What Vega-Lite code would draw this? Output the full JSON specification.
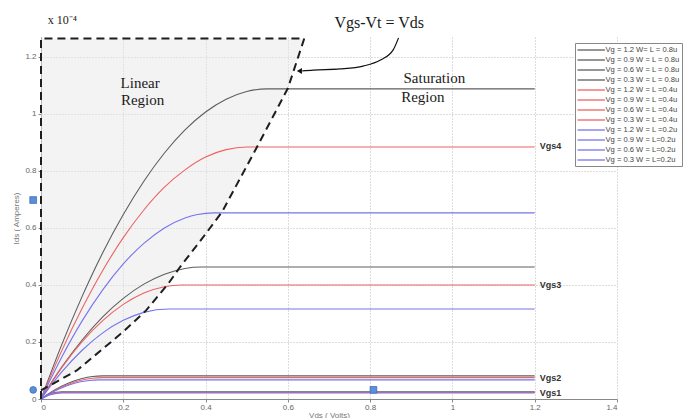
{
  "$schema": "https://vega.github.io/schema/vega-lite/v6.json",
  "width": 576,
  "height": 362,
  "autosize": {"type": "none"},
  "padding": {"left": 41, "top": 37, "right": 68, "bottom": 19},
  "background": "white",
  "config": {
    "view": {"stroke": null},
    "font": "Liberation Sans",
    "axis": {
      "labelFontSize": 8,
      "labelColor": "#666666",
      "titleFontSize": 8,
      "titleFontWeight": "normal",
      "titleColor": "#777777",
      "domainColor": "#888888",
      "tickColor": "#888888",
      "tickSize": 3,
      "gridColor": "#bbbbbb",
      "gridDash": [1, 2],
      "gridWidth": 1
    }
  },
  "datasets": {
    "curves": [
      {"s": "Vg = 1.2 W= L = 0.8u", "v": 0, "i": 0},
      {"s": "Vg = 1.2 W= L = 0.8u", "v": 0.05, "i": 0.189},
      {"s": "Vg = 1.2 W= L = 0.8u", "v": 0.1, "i": 0.36},
      {"s": "Vg = 1.2 W= L = 0.8u", "v": 0.15, "i": 0.513},
      {"s": "Vg = 1.2 W= L = 0.8u", "v": 0.2, "i": 0.647},
      {"s": "Vg = 1.2 W= L = 0.8u", "v": 0.25, "i": 0.764},
      {"s": "Vg = 1.2 W= L = 0.8u", "v": 0.3, "i": 0.863},
      {"s": "Vg = 1.2 W= L = 0.8u", "v": 0.35, "i": 0.944},
      {"s": "Vg = 1.2 W= L = 0.8u", "v": 0.4, "i": 1.007},
      {"s": "Vg = 1.2 W= L = 0.8u", "v": 0.45, "i": 1.052},
      {"s": "Vg = 1.2 W= L = 0.8u", "v": 0.5, "i": 1.079},
      {"s": "Vg = 1.2 W= L = 0.8u", "v": 0.55, "i": 1.088},
      {"s": "Vg = 1.2 W= L = 0.8u", "v": 1.2, "i": 1.088},
      {"s": "Vg = 0.9 W = L = 0.8u", "v": 0, "i": 0},
      {"s": "Vg = 0.9 W = L = 0.8u", "v": 0.05, "i": 0.111},
      {"s": "Vg = 0.9 W = L = 0.8u", "v": 0.1, "i": 0.207},
      {"s": "Vg = 0.9 W = L = 0.8u", "v": 0.15, "i": 0.288},
      {"s": "Vg = 0.9 W = L = 0.8u", "v": 0.2, "i": 0.353},
      {"s": "Vg = 0.9 W = L = 0.8u", "v": 0.25, "i": 0.403},
      {"s": "Vg = 0.9 W = L = 0.8u", "v": 0.3, "i": 0.438},
      {"s": "Vg = 0.9 W = L = 0.8u", "v": 0.35, "i": 0.458},
      {"s": "Vg = 0.9 W = L = 0.8u", "v": 0.39, "i": 0.463},
      {"s": "Vg = 0.9 W = L = 0.8u", "v": 1.2, "i": 0.463},
      {"s": "Vg = 0.6 W = L = 0.8u", "v": 0, "i": 0},
      {"s": "Vg = 0.6 W = L = 0.8u", "v": 0.025, "i": 0.0248},
      {"s": "Vg = 0.6 W = L = 0.8u", "v": 0.05, "i": 0.045},
      {"s": "Vg = 0.6 W = L = 0.8u", "v": 0.075, "i": 0.0608},
      {"s": "Vg = 0.6 W = L = 0.8u", "v": 0.1, "i": 0.072},
      {"s": "Vg = 0.6 W = L = 0.8u", "v": 0.125, "i": 0.0788},
      {"s": "Vg = 0.6 W = L = 0.8u", "v": 0.15, "i": 0.081},
      {"s": "Vg = 0.6 W = L = 0.8u", "v": 1.2, "i": 0.081},
      {"s": "Vg = 0.3 W = L = 0.8u", "v": 0, "i": 0},
      {"s": "Vg = 0.3 W = L = 0.8u", "v": 0.0125, "i": 0.0109},
      {"s": "Vg = 0.3 W = L = 0.8u", "v": 0.025, "i": 0.0188},
      {"s": "Vg = 0.3 W = L = 0.8u", "v": 0.0375, "i": 0.0234},
      {"s": "Vg = 0.3 W = L = 0.8u", "v": 0.05, "i": 0.025},
      {"s": "Vg = 0.3 W = L = 0.8u", "v": 1.2, "i": 0.025},
      {"s": "Vg = 1.2 W = L =0.4u", "v": 0, "i": 0},
      {"s": "Vg = 1.2 W = L =0.4u", "v": 0.05, "i": 0.168},
      {"s": "Vg = 1.2 W = L =0.4u", "v": 0.1, "i": 0.318},
      {"s": "Vg = 1.2 W = L =0.4u", "v": 0.15, "i": 0.451},
      {"s": "Vg = 1.2 W = L =0.4u", "v": 0.2, "i": 0.566},
      {"s": "Vg = 1.2 W = L =0.4u", "v": 0.25, "i": 0.663},
      {"s": "Vg = 1.2 W = L =0.4u", "v": 0.3, "i": 0.743},
      {"s": "Vg = 1.2 W = L =0.4u", "v": 0.35, "i": 0.804},
      {"s": "Vg = 1.2 W = L =0.4u", "v": 0.4, "i": 0.849},
      {"s": "Vg = 1.2 W = L =0.4u", "v": 0.45, "i": 0.875},
      {"s": "Vg = 1.2 W = L =0.4u", "v": 0.5, "i": 0.884},
      {"s": "Vg = 1.2 W = L =0.4u", "v": 1.2, "i": 0.884},
      {"s": "Vg = 0.9 W = L =0.4u", "v": 0, "i": 0},
      {"s": "Vg = 0.9 W = L =0.4u", "v": 0.05, "i": 0.109},
      {"s": "Vg = 0.9 W = L =0.4u", "v": 0.1, "i": 0.201},
      {"s": "Vg = 0.9 W = L =0.4u", "v": 0.15, "i": 0.275},
      {"s": "Vg = 0.9 W = L =0.4u", "v": 0.2, "i": 0.332},
      {"s": "Vg = 0.9 W = L =0.4u", "v": 0.25, "i": 0.372},
      {"s": "Vg = 0.9 W = L =0.4u", "v": 0.3, "i": 0.394},
      {"s": "Vg = 0.9 W = L =0.4u", "v": 0.34, "i": 0.4},
      {"s": "Vg = 0.9 W = L =0.4u", "v": 1.2, "i": 0.4},
      {"s": "Vg = 0.6 W = L =0.4u", "v": 0, "i": 0},
      {"s": "Vg = 0.6 W = L =0.4u", "v": 0.025, "i": 0.0229},
      {"s": "Vg = 0.6 W = L =0.4u", "v": 0.05, "i": 0.0417},
      {"s": "Vg = 0.6 W = L =0.4u", "v": 0.075, "i": 0.0563},
      {"s": "Vg = 0.6 W = L =0.4u", "v": 0.1, "i": 0.0667},
      {"s": "Vg = 0.6 W = L =0.4u", "v": 0.125, "i": 0.0729},
      {"s": "Vg = 0.6 W = L =0.4u", "v": 0.15, "i": 0.075},
      {"s": "Vg = 0.6 W = L =0.4u", "v": 1.2, "i": 0.075},
      {"s": "Vg = 0.3 W = L =0.4u", "v": 0, "i": 0},
      {"s": "Vg = 0.3 W = L =0.4u", "v": 0.0125, "i": 0.0101},
      {"s": "Vg = 0.3 W = L =0.4u", "v": 0.025, "i": 0.0173},
      {"s": "Vg = 0.3 W = L =0.4u", "v": 0.0375, "i": 0.0216},
      {"s": "Vg = 0.3 W = L =0.4u", "v": 0.05, "i": 0.023},
      {"s": "Vg = 0.3 W = L =0.4u", "v": 1.2, "i": 0.023},
      {"s": "Vg = 1.2 W = L =0.2u", "v": 0, "i": 0},
      {"s": "Vg = 1.2 W = L =0.2u", "v": 0.05, "i": 0.146},
      {"s": "Vg = 1.2 W = L =0.2u", "v": 0.1, "i": 0.274},
      {"s": "Vg = 1.2 W = L =0.2u", "v": 0.15, "i": 0.383},
      {"s": "Vg = 1.2 W = L =0.2u", "v": 0.2, "i": 0.474},
      {"s": "Vg = 1.2 W = L =0.2u", "v": 0.25, "i": 0.546},
      {"s": "Vg = 1.2 W = L =0.2u", "v": 0.3, "i": 0.6},
      {"s": "Vg = 1.2 W = L =0.2u", "v": 0.35, "i": 0.635},
      {"s": "Vg = 1.2 W = L =0.2u", "v": 0.38, "i": 0.647},
      {"s": "Vg = 1.2 W = L =0.2u", "v": 0.42, "i": 0.653},
      {"s": "Vg = 1.2 W = L =0.2u", "v": 1.2, "i": 0.653},
      {"s": "Vg = 0.9 W = L=0.2u", "v": 0, "i": 0},
      {"s": "Vg = 0.9 W = L=0.2u", "v": 0.05, "i": 0.094},
      {"s": "Vg = 0.9 W = L=0.2u", "v": 0.1, "i": 0.171},
      {"s": "Vg = 0.9 W = L=0.2u", "v": 0.15, "i": 0.232},
      {"s": "Vg = 0.9 W = L=0.2u", "v": 0.2, "i": 0.276},
      {"s": "Vg = 0.9 W = L=0.2u", "v": 0.25, "i": 0.304},
      {"s": "Vg = 0.9 W = L=0.2u", "v": 0.31, "i": 0.316},
      {"s": "Vg = 0.9 W = L=0.2u", "v": 1.2, "i": 0.316},
      {"s": "Vg = 0.6 W = L=0.2u", "v": 0, "i": 0},
      {"s": "Vg = 0.6 W = L=0.2u", "v": 0.0233, "i": 0.0205},
      {"s": "Vg = 0.6 W = L=0.2u", "v": 0.0467, "i": 0.0372},
      {"s": "Vg = 0.6 W = L=0.2u", "v": 0.07, "i": 0.0503},
      {"s": "Vg = 0.6 W = L=0.2u", "v": 0.0933, "i": 0.0596},
      {"s": "Vg = 0.6 W = L=0.2u", "v": 0.1167, "i": 0.0651},
      {"s": "Vg = 0.6 W = L=0.2u", "v": 0.14, "i": 0.067},
      {"s": "Vg = 0.6 W = L=0.2u", "v": 1.2, "i": 0.067},
      {"s": "Vg = 0.3 W = L=0.2u", "v": 0, "i": 0},
      {"s": "Vg = 0.3 W = L=0.2u", "v": 0.0125, "i": 0.0092},
      {"s": "Vg = 0.3 W = L=0.2u", "v": 0.025, "i": 0.0158},
      {"s": "Vg = 0.3 W = L=0.2u", "v": 0.0375, "i": 0.0197},
      {"s": "Vg = 0.3 W = L=0.2u", "v": 0.05, "i": 0.021},
      {"s": "Vg = 0.3 W = L=0.2u", "v": 1.2, "i": 0.021}
    ],
    "boundary": [
      {"o": 0, "v": 0, "i": 0},
      {"o": 1, "v": 0, "i": 1.265},
      {"o": 2, "v": 0.64, "i": 1.265},
      {"o": 3, "v": 0.6, "i": 1.09},
      {"o": 4, "v": 0.525, "i": 0.884},
      {"o": 5, "v": 0.44, "i": 0.656},
      {"o": 6, "v": 0.39, "i": 0.56},
      {"o": 7, "v": 0.338, "i": 0.463},
      {"o": 8, "v": 0.31, "i": 0.406},
      {"o": 9, "v": 0.255, "i": 0.31},
      {"o": 10, "v": 0.2, "i": 0.236},
      {"o": 11, "v": 0.087, "i": 0.1},
      {"o": 12, "v": 0, "i": 0.03}
    ],
    "region": [
      {"v": 0, "i": 0.03},
      {"v": 0.087, "i": 0.1},
      {"v": 0.2, "i": 0.236},
      {"v": 0.255, "i": 0.31},
      {"v": 0.31, "i": 0.406},
      {"v": 0.338, "i": 0.463},
      {"v": 0.39, "i": 0.56},
      {"v": 0.44, "i": 0.656},
      {"v": 0.525, "i": 0.884},
      {"v": 0.6, "i": 1.09},
      {"v": 0.64, "i": 1.265}
    ],
    "arrow": [
      {"o": 0, "v": 0.869, "i": 1.267},
      {"o": 1, "v": 0.856, "i": 1.225},
      {"o": 2, "v": 0.825, "i": 1.189},
      {"o": 3, "v": 0.783, "i": 1.168},
      {"o": 4, "v": 0.727, "i": 1.158},
      {"o": 5, "v": 0.662, "i": 1.154},
      {"o": 6, "v": 0.635, "i": 1.151}
    ],
    "serif": [
      {"t": "Linear", "v": 0.241, "i": 1.109, "sz": 15},
      {"t": "Region", "v": 0.247, "i": 1.049, "sz": 15},
      {"t": "Saturation", "v": 0.956, "i": 1.126, "sz": 15},
      {"t": "Region", "v": 0.928, "i": 1.06, "sz": 15},
      {"t": "Vgs-Vt = Vds", "v": 0.822, "i": 1.319, "sz": 16},
      {"t": "x 10⁻⁴", "v": 0.052, "i": 1.33, "sz": 12}
    ],
    "vgs": [
      {"t": "Vgs4", "v": 1.212, "i": 0.886},
      {"t": "Vgs3", "v": 1.212, "i": 0.4},
      {"t": "Vgs2", "v": 1.212, "i": 0.074},
      {"t": "Vgs1", "v": 1.212, "i": 0.02}
    ],
    "markers": [
      {"m": "square", "v": -0.019, "i": 0.698},
      {"m": "square", "v": 0.808, "i": 0.032},
      {"m": "circle", "v": -0.019, "i": 0.032}
    ]
  },
  "layer": [
    {
      "data": {"name": "region"},
      "mark": {"type": "area", "orient": "horizontal", "color": "#e8e8e8", "opacity": 0.5},
      "encoding": {
        "x": {
          "field": "v", "type": "quantitative",
          "scale": {"domain": [0, 1.4], "nice": false, "zero": true},
          "axis": {"values": [0, 0.2, 0.4, 0.6, 0.8, 1, 1.2, 1.4], "format": "~g", "title": "Vds ( Volts)", "titlePadding": 0, "labelPadding": 1}
        },
        "y": {
          "field": "i", "type": "quantitative",
          "scale": {"domain": [0, 1.27], "nice": false},
          "axis": {"values": [0, 0.2, 0.4, 0.6, 0.8, 1, 1.2], "format": "~g", "title": "Ids ( Amperes)", "titlePadding": 4, "labelPadding": 2}
        }
      }
    },
    {
      "data": {"name": "curves"},
      "mark": {"type": "line", "strokeWidth": 1.1, "interpolate": "monotone", "clip": false},
      "encoding": {
        "x": {"field": "v", "type": "quantitative"},
        "y": {"field": "i", "type": "quantitative"},
        "color": {
          "field": "s", "type": "nominal",
          "scale": {
            "domain": ["Vg = 1.2 W= L = 0.8u", "Vg = 0.9 W = L = 0.8u", "Vg = 0.6 W = L = 0.8u", "Vg = 0.3 W = L = 0.8u",
                       "Vg = 1.2 W = L =0.4u", "Vg = 0.9 W = L =0.4u", "Vg = 0.6 W = L =0.4u", "Vg = 0.3 W = L =0.4u",
                       "Vg = 1.2 W = L =0.2u", "Vg = 0.9 W = L=0.2u", "Vg = 0.6 W = L=0.2u", "Vg = 0.3 W = L=0.2u"],
            "range": ["#5e5e5e", "#5e5e5e", "#5e5e5e", "#5e5e5e",
                      "#ee6262", "#ee6262", "#ee6262", "#ee6262",
                      "#7474ee", "#7474ee", "#7474ee", "#7474ee"]
          },
          "legend": {
            "title": null,
            "orient": "none",
            "legendX": 534,
            "legendY": 6,
            "fillColor": "white",
            "strokeColor": "#888888",
            "padding": 1.5,
            "labelFontSize": 7.6,
            "labelColor": "#444444",
            "labelLimit": 200,
            "symbolType": "M-1,0H5.1",
            "symbolSize": 81,
            "symbolStrokeWidth": 1.3,
            "labelOffset": 18,
            "rowPadding": 0
          }
        },
        "order": {"field": "v", "type": "quantitative"}
      }
    },
    {
      "data": {"name": "boundary"},
      "mark": {"type": "line", "color": "#1e1e1e", "strokeWidth": 2, "strokeDash": [8, 5], "clip": false},
      "encoding": {
        "x": {"field": "v", "type": "quantitative"},
        "y": {"field": "i", "type": "quantitative"},
        "order": {"field": "o", "type": "quantitative"}
      }
    },
    {
      "data": {"name": "arrow"},
      "mark": {"type": "line", "color": "#111111", "strokeWidth": 1.2, "interpolate": "monotone", "clip": false},
      "encoding": {
        "x": {"field": "v", "type": "quantitative"},
        "y": {"field": "i", "type": "quantitative"},
        "order": {"field": "o", "type": "quantitative"}
      }
    },
    {
      "data": {"values": [{"v": 0.628, "i": 1.151}]},
      "mark": {"type": "point", "shape": "triangle-left", "filled": true, "color": "#111111", "size": 35, "opacity": 1},
      "encoding": {
        "x": {"field": "v", "type": "quantitative"},
        "y": {"field": "i", "type": "quantitative"}
      }
    },
    {
      "data": {"name": "serif"},
      "mark": {"type": "text", "font": "Liberation Serif", "color": "#1a1a1a", "baseline": "middle", "align": "center"},
      "encoding": {
        "x": {"field": "v", "type": "quantitative"},
        "y": {"field": "i", "type": "quantitative"},
        "text": {"field": "t"},
        "size": {"field": "sz", "type": "quantitative", "scale": null}
      }
    },
    {
      "data": {"name": "vgs"},
      "mark": {"type": "text", "font": "Liberation Sans", "fontWeight": "bold", "fontSize": 9, "color": "#333333", "align": "left", "baseline": "middle"},
      "encoding": {
        "x": {"field": "v", "type": "quantitative"},
        "y": {"field": "i", "type": "quantitative"},
        "text": {"field": "t"}
      }
    },
    {
      "data": {"name": "markers"},
      "mark": {"type": "point", "filled": true, "color": "#5b8fd9", "size": 45, "opacity": 1, "stroke": "#3f6fb5", "strokeWidth": 0.8},
      "encoding": {
        "x": {"field": "v", "type": "quantitative"},
        "y": {"field": "i", "type": "quantitative"},
        "shape": {"field": "m", "type": "nominal", "scale": null}
      }
    }
  ]
}
